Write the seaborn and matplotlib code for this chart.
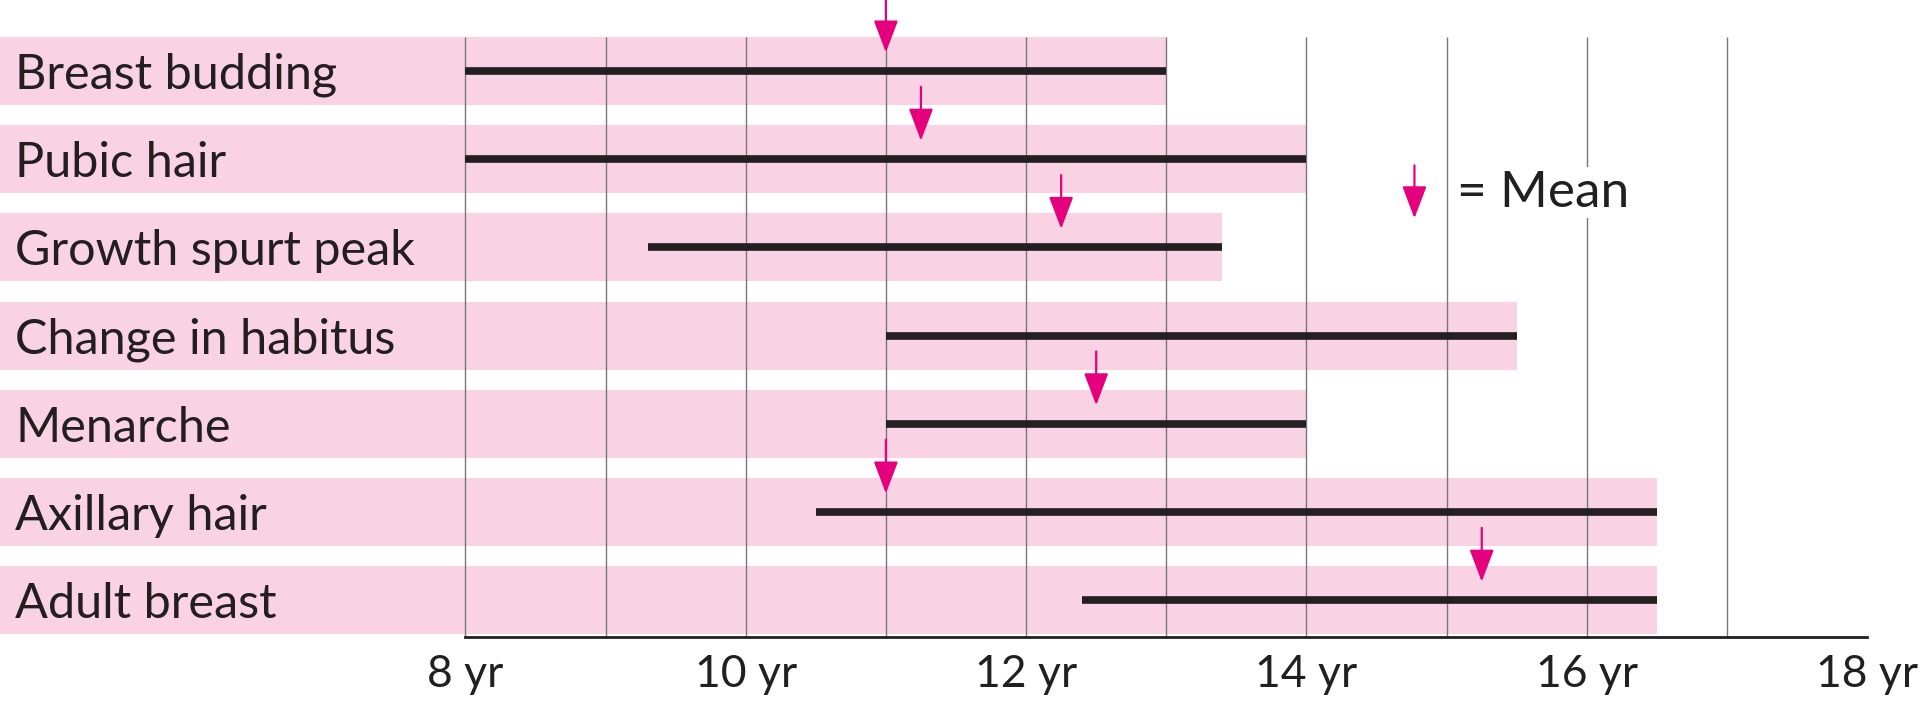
import numpy as np
import pandas as pd
import matplotlib
matplotlib.use("Agg")
import matplotlib.pyplot as plt
import seaborn as sns

# ── Data ─────────────────────────────────────────────────────
stages = ["Breast budding", "Pubic hair", "Growth spurt peak",
          "Change in habitus", "Menarche", "Axillary hair", "Adult breast"]
age_start = [8.0, 8.0, 9.3, 11.0, 11.0, 10.5, 12.4]
age_end = [13.0, 14.0, 13.4, 15.5, 14.0, 16.5, 16.5]
age_mean = [11.0, 11.25, 12.25, np.nan, 12.5, 11.0, 15.25]
tick_years = [8, 10, 12, 14, 16, 18]
tick_labels = [f"{t} yr" for t in tick_years]
grid_years = list(range(8, 18))

# ── Style ────────────────────────────────────────────────────
PINK = "#F9D3E3"
MAGENTA = "#E5007E"
DARK = "#231F20"
GRID = "#777777"

plt.rcParams["font.family"] = ["Lato", "DejaVu Sans"]

df = pd.DataFrame({"stage": stages, "start": age_start,
                   "end": age_end, "mean": age_mean})

fig = plt.figure(figsize=(19.2, 7.01), dpi=100)
ax = fig.add_axes([0, 0, 1, 1])

# pink bands, clipped at the left edge of the axes
sns.barplot(data=df, x="end", y="stage", orient="h", color=PINK,
            saturation=1, width=0.77, ax=ax, zorder=1)

# vertical grid lines from the top band down to the axis
axis_y = 6.42
ax.vlines(grid_years, -0.385, axis_y, color=GRID, lw=1.0, zorder=1.5)

# age ranges
ax.hlines(df.index, df["start"], df["end"], color=DARK, lw=5.5, zorder=2)

# mean arrows
arrow_kw = dict(arrowstyle="-|>,head_length=1.0,head_width=0.38",
                color=MAGENTA, lw=1.6, shrinkA=0, shrinkB=0,
                mutation_scale=20)
for i, m in enumerate(df["mean"]):
    if np.isnan(m):
        continue
    ax.annotate("", xy=(m, i - 0.21), xytext=(m, i - 0.82),
                arrowprops=arrow_kw, annotation_clip=False, zorder=3)

# legend
ax.annotate("", xy=(14.77, 1.67), xytext=(14.77, 1.07),
            arrowprops=arrow_kw, zorder=3)
ax.text(15.07, 1.38, "= Mean", fontsize=37, color=DARK, va="center",
        ha="left", zorder=3,
        bbox=dict(facecolor="white", edgecolor="none", pad=2))

# axes
ax.set_xlim(4.681, 18.376)
ax.set_ylim(7.143, -0.805)
ax.set_axisbelow(False)
for s in ["top", "right", "left"]:
    ax.spines[s].set_visible(False)
ax.spines["bottom"].set_position(("data", axis_y))
ax.spines["bottom"].set_bounds(8, 18)
ax.spines["bottom"].set_color(DARK)
ax.spines["bottom"].set_linewidth(2)

ax.set_xticks(tick_years)
ax.set_xticklabels(tick_labels)
ax.tick_params(axis="x", length=0, pad=12, labelsize=32, labelcolor=DARK)
ax.tick_params(axis="y", length=0, pad=-11, labelsize=35, labelcolor=DARK)
for lab in ax.get_yticklabels():
    lab.set_horizontalalignment("left")
ax.set_xlabel("")
ax.set_ylabel("")

fig.savefig("out.png", dpi=100)
